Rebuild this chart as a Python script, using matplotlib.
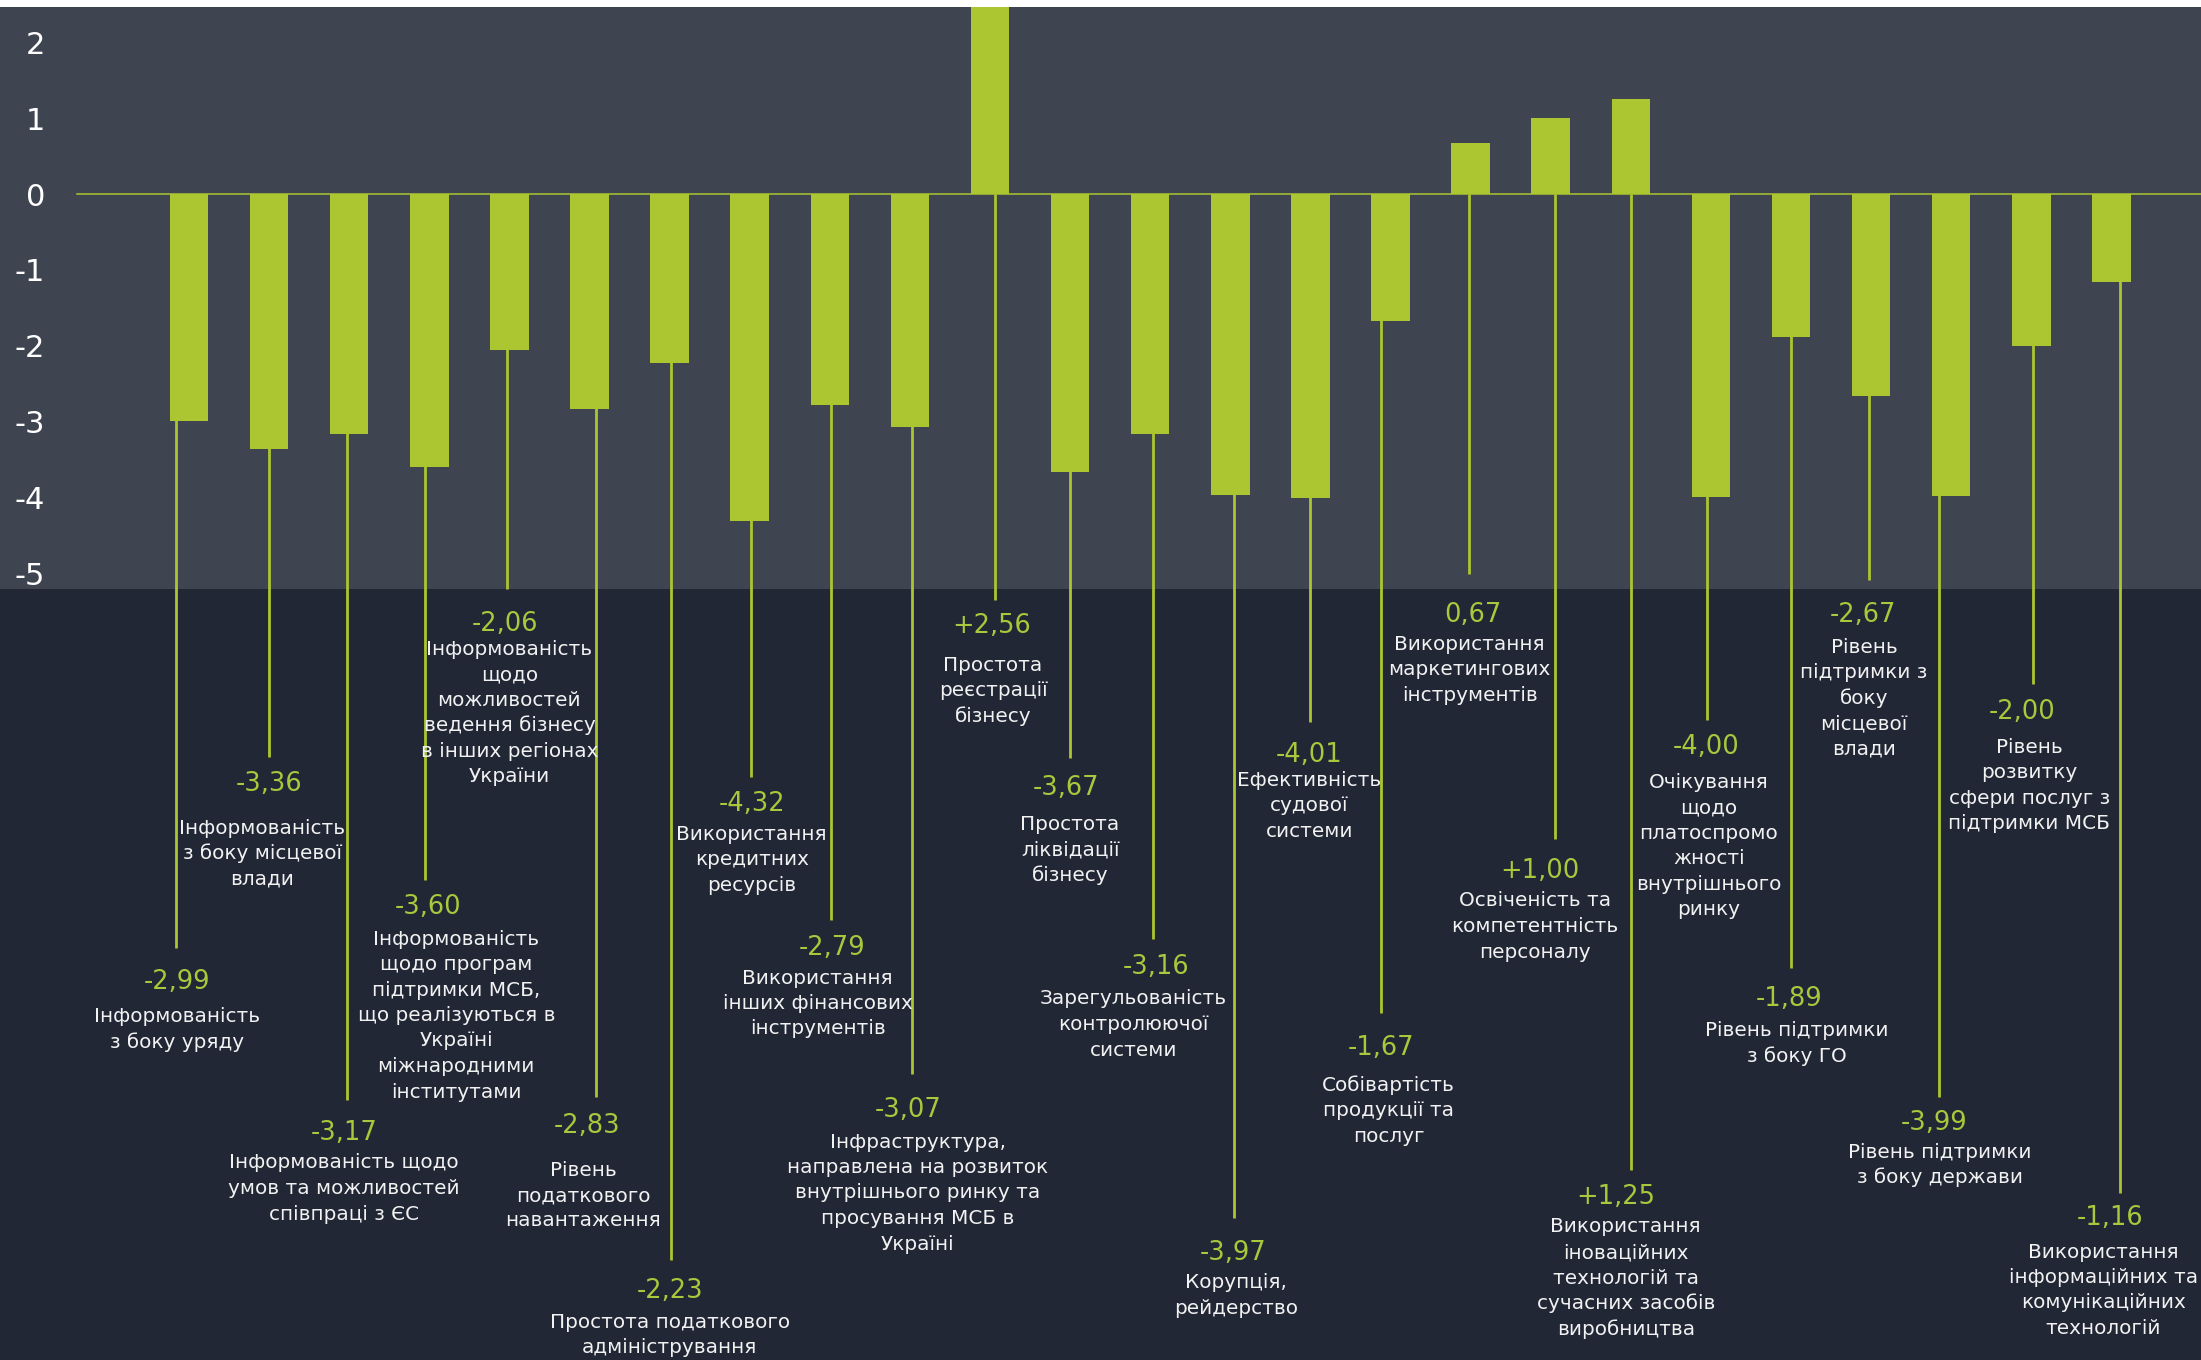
import matplotlib
matplotlib.use('Agg')
import matplotlib.pyplot as plt

# ═══════════════════════════════════════
#  Data
# ═══════════════════════════════════════
VALUES = [-2.99, -3.36, -3.17, -3.60, -2.06, -2.83, -2.23, -4.32, -2.79, -3.07,
          2.56, -3.67, -3.16, -3.97, -4.01, -1.67, 0.67, 1.00, 1.25, -4.00,
          -1.89, -2.67, -3.99, -2.00, -1.16]

VALUE_TEXT = ["-2,99", "-3,36", "-3,17", "-3,60", "-2,06", "-2,83", "-2,23", "-4,32",
              "-2,79", "-3,07", "+2,56", "-3,67", "-3,16", "-3,97", "-4,01", "-1,67",
              "0,67", "+1,00", "+1,25", "-4,00", "-1,89", "-2,67", "-3,99", "-2,00",
              "-1,16"]

FACTORS = [
    "Інформованість\nз боку уряду",
    "Інформованість\nз боку місцевої\nвлади",
    "Інформованість щодо\nумов та можливостей\nспівпраці з ЄС",
    "Інформованість\nщодо програм\nпідтримки МСБ,\nщо реалізуються в\nУкраїні\nміжнародними\nінститутами",
    "Інформованість\nщодо\nможливостей\nведення бізнесу\nв інших регіонах\nУкраїни",
    "Рівень\nподаткового\nнавантаження",
    "Простота податкового\nадміністрування",
    "Використання\nкредитних\nресурсів",
    "Використання\nінших фінансових\nінструментів",
    "Інфраструктура,\nнаправлена на розвиток\nвнутрішнього ринку та\nпросування МСБ в\nУкраїні",
    "Простота\nреєстрації\nбізнесу",
    "Простота\nліквідації\nбізнесу",
    "Зарегульованість\nконтролюючої\nсистеми",
    "Корупція,\nрейдерство",
    "Ефективність\nсудової\nсистеми",
    "Собівартість\nпродукції та\nпослуг",
    "Використання\nмаркетингових\nінструментів",
    "Освіченість та\nкомпетентність\nперсоналу",
    "Використання\nіноваційних\nтехнологій та\nсучасних засобів\nвиробництва",
    "Очікування\nщодо\nплатоспромо\nжності\nвнутрішнього\nринку",
    "Рівень підтримки\nз боку ГО",
    "Рівень\nпідтримки з\nбоку\nмісцевої\nвлади",
    "Рівень підтримки\nз боку держави",
    "Рівень\nрозвитку\nсфери послуг з\nпідтримки МСБ",
    "Використання\nінформаційних та\nкомунікаційних\nтехнологій",
]

Y_TICKS = [2, 1, 0, -1, -2, -3, -4, -5]

# ═══════════════════════════════════════
#  Layout (pixels of the 2201x1360 picture)
# ═══════════════════════════════════════
W, H, DPI = 2201, 1360, 100
TOP_PX = 7          # white strip above the chart
ZERO_PX = 194       # y pixel of value 0
UNIT_PX = 75.8      # pixels per unit
X0_PX = 189         # centre of first bar
STEP_PX = 80.1      # bar spacing
BAND_PX = 589       # end of the lighter upper band
LINE_GAP = 25.5     # line spacing of the captions

# per bar: leader dx, leader end y, value dx, value y, caption dx, caption y
LABEL_LAYOUT = [
    (-13, 948, 1, 982, 1, 1017),
    (0, 757, 0, 784, -7, 828),
    (-2, 1100, -3, 1133, -3, 1163),
    (-4, 880, 3, 907, 31, 939),
    (-2, 589, -2, 624, 2, 649),
    (7, 1097, -9, 1126, -13, 1170),
    (1, 1260, -1, 1291, -1, 1322),
    (1, 777, 1, 804, 1, 834),
    (1, 920, 1, 948, -13, 978),
    (2, 1074, -4, 1110, 6, 1142),
    (5, 600, -3, 626, -2, 665),
    (0, 758, -4, 788, 0, 824),
    (3, 939, 3, 967, -20, 999),
    (4, 1218, -1, 1253, 2, 1283),
    (0, 722, -1, 755, -1, 780),
    (-9, 1013, 0, 1048, 7, 1085),
    (-2, 574, 4, 615, 1, 644),
    (4, 839, -15, 871, -20, 901),
    (0, 1170, -15, 1197, -5, 1227),
    (-4, 720, -1, 747, 2, 782),
    (0, 968, -2, 999, 6, 1031),
    (-2, 580, -6, 615, -5, 647),
    (-12, 1097, -5, 1123, 1, 1152),
    (2, 684, -11, 712, -4, 747),
    (9, 1193, -10, 1218, -17, 1252),
]

GREEN = '#abc630'
GREEN_TXT = '#a9c83c'
UPPER = '#3f4451'
LOWER = '#222736'
WHITE = '#f2f2f2'

plt.rcParams['font.family'] = ['DejaVu Sans']


def py(y_px):
    """picture y pixel -> data value"""
    return (ZERO_PX - y_px) / UNIT_PX


def px(dx):
    """pixel offset -> data x offset"""
    return dx / STEP_PX


fig = plt.figure(figsize=(W / DPI, H / DPI), dpi=DPI, facecolor='white')
ax = fig.add_axes([0, 0, 1, (H - TOP_PX) / H])
ax.set_facecolor(LOWER)
ax.set_xlim(-X0_PX / STEP_PX, (W - X0_PX) / STEP_PX)
ax.set_ylim(py(H), py(TOP_PX))
for s in ax.spines.values():
    s.set_visible(False)

ax.axhspan(py(BAND_PX), py(TOP_PX), color=UPPER, lw=0, zorder=0)
ax.axhline(0, xmin=77 / W, xmax=1, color=GREEN, lw=1.1, zorder=2)

x = list(range(len(VALUES)))
ax.bar(x, VALUES, width=38.5 / STEP_PX, color=GREEN, lw=0, zorder=3)

for i, (ldx, lend, vdx, vy, tdx, ty) in enumerate(LABEL_LAYOUT):
    lx = i + px(ldx)
    ax.plot([lx, lx], [0, py(lend)], color=GREEN, lw=2, zorder=2,
            solid_capstyle='butt')
    ax.text(lx + px(vdx), py(vy), VALUE_TEXT[i], color=GREEN_TXT,
            fontsize=18.5, ha='center', va='center', zorder=4)
    for k, line in enumerate(FACTORS[i].split('\n')):
        ax.text(lx + px(tdx), py(ty + k * LINE_GAP), line, color=WHITE,
                fontsize=14.4, ha='center', va='center', zorder=4)

ax.set_xticks([])
ax.set_yticks(Y_TICKS)
ax.set_yticklabels([str(t) for t in Y_TICKS])
ax.tick_params(axis='y', length=0, pad=-32.5, labelsize=22, labelcolor='white')
for lab in ax.get_yticklabels():
    lab.set_horizontalalignment('right')

fig.savefig('out.png', dpi=DPI, facecolor='white')
